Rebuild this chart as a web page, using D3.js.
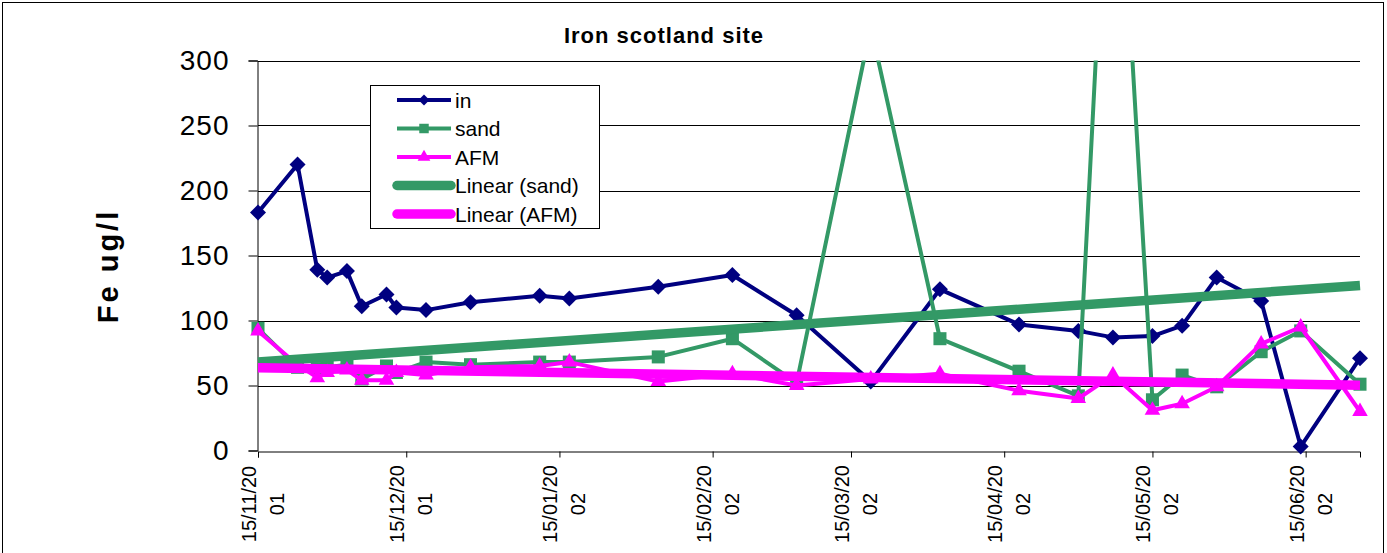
<!DOCTYPE html>
<html>
<head>
<meta charset="utf-8">
<script src="https://cdn.jsdelivr.net/npm/d3@7"></script>
<style>
  html, body { margin: 0; padding: 0; background: #fff; }
  svg { display: block; }
  text { font-family: "Liberation Sans", Arial, sans-serif; fill: #000; }
</style>
</head>
<body>
<svg id="chart" width="1387" height="553"></svg>
<script>
// Sampling dates and iron readings (ug/l) at the Scotland site
const sampleDates = [
  "2001-11-15", "2001-11-23", "2001-11-27", "2001-11-29", "2001-12-03", "2001-12-06",
  "2001-12-11", "2001-12-13", "2001-12-19", "2001-12-28", "2002-01-11", "2002-01-17",
  "2002-02-04", "2002-02-19", "2002-03-04", "2002-03-19", "2002-04-02", "2002-04-18",
  "2002-04-30", "2002-05-07", "2002-05-15", "2002-05-21", "2002-05-28", "2002-06-06",
  "2002-06-14", "2002-06-26"
];
const inValues = [183, 220, 139, 133, 138, 111, 120, 110, 108, 114, 119, 117,
                  126, 135, 104, 53, 124, 97, 92, 87, 88, 96, 133, 115, 3, 71];
const sandValues = [94, 64, 63, 64, 66, 55, 65, 60, 68, 66, 68, 68,
                    72, 86, 52, 326, 86, 61, 42, 555, 39, 58, 49, 76, 92, 51];
const afmValues = [92, 66, 56, 60, 62, 54, 54, 60, 58, 64, 65, 68,
                   53, 59, 50, 55, 59, 46, 40, 58, 31, 36, 49, 82, 95, 30];

const yTicks = [0, 50, 100, 150, 200, 250, 300];
const xTickDates = ["2001-11-15", "2001-12-15", "2002-01-15", "2002-02-15",
                    "2002-03-15", "2002-04-15", "2002-05-15", "2002-06-15"];
const xTickLabels = ["15/11/2001", "15/12/2001", "15/01/2002", "15/02/2002",
                     "15/03/2002", "15/04/2002", "15/05/2002", "15/06/2002"];

const seriesNames = ["in", "sand", "AFM", "Linear (sand)", "Linear (AFM)"];

const NAVY = "#000080", GREEN = "#339966", MAGENTA = "#FF00FF";
const parse = d3.utcParse("%Y-%m-%d");
const dates = sampleDates.map(parse);

const svg = d3.select("#chart");
const plot = { left: 258, right: 1360, top: 60.5, bottom: 450.5 };

const x = d3.scaleUtc()
  .domain([dates[0], dates[dates.length - 1]])
  .range([plot.left, plot.right]);
const y = d3.scaleLinear().domain([0, 300]).range([plot.bottom, plot.top]);

// Outer chart border
svg.append("rect")
  .attr("x", 2.5).attr("y", 2.5).attr("width", 1381).attr("height", 600)
  .attr("fill", "none").attr("stroke", "#000").attr("stroke-width", 1);

// Title
svg.append("text")
  .attr("x", 664).attr("y", 43)
  .attr("text-anchor", "middle")
  .attr("font-size", 22).attr("font-weight", "bold")
  .attr("letter-spacing", 1)
  .text("Iron scotland site");

// Horizontal gridlines
svg.append("g")
  .selectAll("line")
  .data(yTicks.filter(d => d > 0))
  .join("line")
  .attr("x1", plot.left).attr("x2", plot.right)
  .attr("y1", d => Math.round(y(d)) + 0.5).attr("y2", d => Math.round(y(d)) + 0.5)
  .attr("stroke", "#000").attr("stroke-width", 1);

// Y axis
const yAxis = d3.axisLeft(y).tickValues(yTicks).tickSize(9).tickPadding(19)
  .tickFormat(d3.format("d"));
const gy = svg.append("g").attr("transform", `translate(${plot.left - 0.5},0)`).call(yAxis);
gy.select(".domain").attr("stroke", "#000");
gy.selectAll(".tick line").attr("stroke", "#000");
gy.selectAll(".tick text")
  .attr("font-size", 28).attr("font-family", "Liberation Sans, Arial, sans-serif")
  .attr("letter-spacing", 1).attr("fill", "#000");

// X axis
const xAxis = d3.axisBottom(x).tickValues(xTickDates.map(parse)).tickSize(6).tickFormat("");
const gx = svg.append("g").attr("transform", `translate(0,${Math.round(y(0)) + 0.5})`).call(xAxis);
gx.select(".domain").attr("stroke", "#000");
gx.selectAll(".tick line").attr("stroke", "#000");

// Rotated, two-line date labels
const labelG = svg.append("g")
  .selectAll("g")
  .data(xTickLabels)
  .join("g")
  .attr("transform", (d, i) => `translate(${x(parse(xTickDates[i]))},504) rotate(-90)`);
labelG.append("text")
  .attr("text-anchor", "middle").attr("y", -2)
  .attr("font-size", 20)
  .text(d => d.slice(0, 8));
labelG.append("text")
  .attr("text-anchor", "middle").attr("y", 26)
  .attr("font-size", 20)
  .text(d => d.slice(8));

// Y axis title
svg.append("text")
  .attr("transform", "translate(118,266) rotate(-90)")
  .attr("text-anchor", "middle")
  .attr("font-size", 29).attr("font-weight", "bold")
  .attr("letter-spacing", 3)
  .text("Fe ug/l");

// Clip the series to the plot area (top edge)
svg.append("defs").append("clipPath").attr("id", "plotClip")
  .append("rect")
  .attr("x", plot.left - 20).attr("y", plot.top)
  .attr("width", plot.right - plot.left + 40).attr("height", 500);

const line = d3.line().x(d => x(d[0])).y(d => y(d[1]));
const series = [
  { name: "in", values: inValues, color: NAVY, symbol: "diamond" },
  { name: "sand", values: sandValues, color: GREEN, symbol: "square" },
  { name: "AFM", values: afmValues, color: MAGENTA, symbol: "triangle" }
];

function markerPath(kind) {
  if (kind === "diamond") return d3.symbol(d3.symbolSquare, 128)();
  if (kind === "square") return d3.symbol(d3.symbolSquare, 170)();
  return d3.symbol(d3.symbolTriangle, 105)();
}
function markerTransform(kind, px, py) {
  return kind === "diamond" ? `translate(${px},${py}) rotate(45)` : `translate(${px},${py})`;
}

const seriesLayer = svg.append("g").attr("clip-path", "url(#plotClip)");
series.forEach(s => {
  const pts = dates.map((d, i) => [d, s.values[i]]);
  seriesLayer.append("path")
    .attr("d", line(pts))
    .attr("fill", "none")
    .attr("stroke", s.color)
    .attr("stroke-width", 4)
    .attr("stroke-linejoin", "round");
  seriesLayer.append("g")
    .selectAll("path")
    .data(pts)
    .join("path")
    .attr("d", markerPath(s.symbol))
    .attr("transform", d => markerTransform(s.symbol, x(d[0]), y(d[1])))
    .attr("fill", s.color);
});

// Least-squares linear trend on the date values
function linearTrend(values) {
  const xs = dates.map(d => d.getTime() / 86400000);
  const mx = d3.mean(xs), my = d3.mean(values);
  let sxy = 0, sxx = 0;
  xs.forEach((xv, i) => { sxy += (xv - mx) * (values[i] - my); sxx += (xv - mx) ** 2; });
  const slope = sxy / sxx;
  const f = t => my + slope * (t.getTime() / 86400000 - mx);
  const d0 = dates[0], d1 = dates[dates.length - 1];
  return [[d0, f(d0)], [d1, f(d1)]];
}

[{ values: sandValues, color: GREEN }, { values: afmValues, color: MAGENTA }].forEach(t => {
  seriesLayer.append("path")
    .attr("d", line(linearTrend(t.values)))
    .attr("fill", "none")
    .attr("stroke", t.color)
    .attr("stroke-width", 9.5);
});

// Legend
const legend = svg.append("g");
legend.append("rect")
  .attr("x", 370.5).attr("y", 85.5).attr("width", 229).attr("height", 143)
  .attr("fill", "#fff").attr("stroke", "#000").attr("stroke-width", 1);

const legendItems = [
  { color: NAVY, symbol: "diamond", width: 4 },
  { color: GREEN, symbol: "square", width: 4 },
  { color: MAGENTA, symbol: "triangle", width: 4 },
  { color: GREEN, symbol: null, width: 9.5 },
  { color: MAGENTA, symbol: null, width: 9.5 }
];
const legendRowY = d3.scalePoint().domain(d3.range(seriesNames.length)).range([100, 214]);
legendItems.forEach((item, i) => {
  const ly = legendRowY(i);
  legend.append("line")
    .attr("x1", 397).attr("x2", 451).attr("y1", ly).attr("y2", ly)
    .attr("stroke", item.color).attr("stroke-width", item.width)
    .attr("stroke-linecap", item.symbol ? "butt" : "round");
  if (item.symbol) {
    const size = item.symbol === "diamond" ? 60 : item.symbol === "square" ? 90 : 70;
    const sym = item.symbol === "triangle" ? d3.symbolTriangle : d3.symbolSquare;
    legend.append("path")
      .attr("d", d3.symbol(sym, size)())
      .attr("transform", item.symbol === "diamond" ? `translate(424,${ly}) rotate(45)` : `translate(424,${ly})`)
      .attr("fill", item.color);
  }
  legend.append("text")
    .attr("x", 455).attr("y", ly + 7.5)
    .attr("font-size", 21)
    .text(seriesNames[i]);
});
</script>
</body>
</html>
